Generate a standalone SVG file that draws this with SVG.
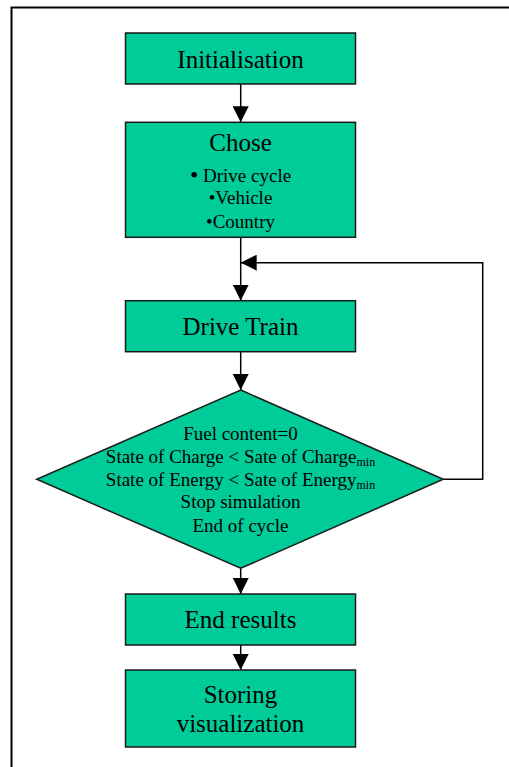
<svg xmlns="http://www.w3.org/2000/svg" width="509" height="767" viewBox="0 0 509 767">
<defs>
<style>
.box{fill:#00CC99;stroke:#1a1a1a;stroke-width:1.5}
.t{font-family:"Liberation Serif","Times New Roman",serif;fill:#000;text-anchor:middle}
.big{font-size:25px}
.mid{font-size:19px}
.sub{font-size:12px}
.ln{stroke:#000;stroke-width:1.5;fill:none}
</style>
<marker id="ah" markerUnits="userSpaceOnUse" markerWidth="16" markerHeight="16" viewBox="0 0 16 16" refX="16" refY="8" orient="auto">
<path d="M0,0 L16,8 L0,16 Z" fill="#000"/>
</marker>
</defs>
<rect width="509" height="767" fill="#fff"/>
<path d="M11.5,767 V7.5 H509" fill="none" stroke="#000" stroke-width="2"/>
<g id="connectors">
<line class="ln" x1="240.7" y1="84" x2="240.7" y2="122.3" marker-end="url(#ah)"/>
<line class="ln" x1="240.7" y1="237.3" x2="240.7" y2="300.7" marker-end="url(#ah)"/>
<line class="ln" x1="240.7" y1="351.7" x2="240.7" y2="390" marker-end="url(#ah)"/>
<polyline class="ln" points="443.3,479.3 482.7,479.3 482.7,262.7 240.7,262.7" marker-end="url(#ah)"/>
<line class="ln" x1="240.7" y1="568.3" x2="240.7" y2="594" marker-end="url(#ah)"/>
<line class="ln" x1="240.7" y1="645" x2="240.7" y2="670" marker-end="url(#ah)"/>
</g>
<g id="initialisation">
<rect class="box" x="125.5" y="33" width="230" height="51"/>
<text class="t big" x="240.5" y="68">Initialisation</text>
</g>
<g id="chose">
<rect class="box" x="125.5" y="122.3" width="230" height="115"/>
<text class="t big" x="240.5" y="150.7">Chose</text>
<text class="t mid" x="240.5" y="181.7"><tspan font-size="24" dy="1">•</tspan><tspan dy="-1"> Drive cycle</tspan></text>
<text class="t mid" x="240.5" y="204.3">•Vehicle</text>
<text class="t mid" x="240.5" y="228.3">•Country</text>
</g>
<g id="drive-train">
<rect class="box" x="125.5" y="300.7" width="230" height="51"/>
<text class="t big" x="240.5" y="335">Drive Train</text>
</g>
<g id="decision">
<polygon class="box" points="240.7,390 443.3,479.3 240.7,568.3 36.7,479.3"/>
<text class="t mid" x="240.5" y="440">Fuel content=0</text>
<text class="t mid" x="240.5" y="463.3">State of Charge &lt; Sate of Charge<tspan class="sub" dy="3">min</tspan></text>
<text class="t mid" x="240.5" y="486">State of Energy &lt; Sate of Energy<tspan class="sub" dy="3">min</tspan></text>
<text class="t mid" x="240.5" y="508.3">Stop simulation</text>
<text class="t mid" x="240.5" y="531.7">End of cycle</text>
</g>
<g id="end-results">
<rect class="box" x="125.5" y="594" width="230" height="51"/>
<text class="t big" x="240.5" y="627.7">End results</text>
</g>
<g id="storing">
<rect class="box" x="125.5" y="670" width="230" height="77"/>
<text class="t big" x="240.5" y="702.7">Storing</text>
<text class="t big" x="240.5" y="731.7">visualization</text>
</g>
</svg>
